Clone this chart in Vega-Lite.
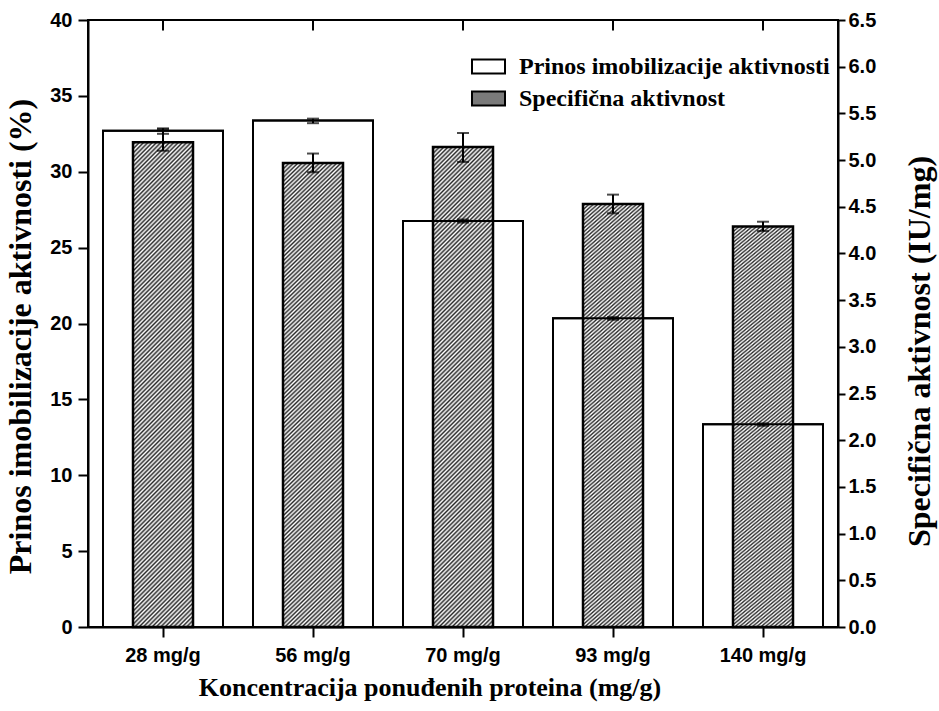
{
  "$schema": "https://vega.github.io/schema/vega-lite/v6.json",
  "width": 750,
  "height": 607,
  "autosize": {"type": "none"},
  "padding": {"left": 88, "top": 20, "right": 101, "bottom": 84},
  "background": "white",
  "data": {"values": [
    {"conc": "28 mg/g", "yield": 32.7, "yLo": 32.5, "yHi": 32.86, "spec": 5.19, "sLo": 5.1, "sHi": 5.33},
    {"conc": "56 mg/g", "yield": 33.37, "yLo": 33.2, "yHi": 33.5, "spec": 4.97, "sLo": 4.87, "sHi": 5.07},
    {"conc": "70 mg/g", "yield": 26.75, "yLo": 26.65, "yHi": 26.85, "spec": 5.14, "sLo": 4.98, "sHi": 5.29},
    {"conc": "93 mg/g", "yield": 20.34, "yLo": 20.25, "yHi": 20.42, "spec": 4.53, "sLo": 4.43, "sHi": 4.63},
    {"conc": "140 mg/g", "yield": 13.36, "yLo": 13.26, "yHi": 13.42, "spec": 4.29, "sLo": 4.24, "sHi": 4.34}
  ]},
  "layer": [
    {
      "mark": {"type": "bar", "size": 120, "stroke": "black", "strokeWidth": 2},
      "encoding": {
        "x": {"field": "conc", "type": "nominal", "sort": null, "scale": {"paddingInner": 0, "paddingOuter": 0},
          "axis": {"orient": "bottom", "title": "Koncentracija ponuđenih proteina (mg/g)", "labelAngle": 0, "tickSize": 10, "labelPadding": 8,
            "labelFont": "Liberation Sans", "labelFontSize": 20, "labelFontWeight": "bold",
            "titleFont": "Liberation Serif", "titleFontSize": 26, "titleFontWeight": "bold", "titleX": 341.5, "titleY": 68, "titleBaseline": "alphabetic", "titleAlign": "center"}},
        "y": {"field": "yield", "type": "quantitative", "scale": {"domain": [0, 40], "nice": false},
          "axis": {"orient": "left", "title": "Prinos imobilizacije aktivnosti (%)", "values": [0, 5, 10, 15, 20, 25, 30, 35, 40], "tickSize": 10, "labelPadding": 6,
            "labelFont": "Liberation Sans", "labelFontSize": 20, "labelFontWeight": "bold",
            "titleFont": "Liberation Serif", "titleFontSize": 32, "titleFontWeight": "bold", "titleAngle": -90, "titleX": -58, "titleY": 316, "titleBaseline": "alphabetic", "titleAlign": "center"}},
        "fill": {"datum": "Prinos imobilizacije aktivnosti", "type": "nominal",
          "scale": {"domain": ["Prinos imobilizacije aktivnosti", "Specifična aktivnost"], "range": ["#ffffff", "#7a7a7a"]},
          "legend": {"orient": "none", "legendX": 383, "legendY": 29, "title": null, "padding": 0, "labelLimit": 500,
            "labelFont": "Liberation Serif", "labelFontSize": 24, "labelFontWeight": "bold", "labelColor": "black", "labelOffset": 13,
            "symbolType": "M-1,-0.424H1V0.424H-1Z", "symbolSize": 1089, "symbolStrokeColor": "black", "symbolStrokeWidth": 2, "symbolOpacity": 1, "rowPadding": 2}}
      }
    },
    {
      "layer": [
        {
          "mark": {"type": "bar", "size": 60, "stroke": "black", "strokeWidth": 2.5,
            "fill": {"gradient": "linear", "x1": 0, "y1": 0, "x2": 0.1385, "y2": 1.1077, "stops": [
{"offset":0,"color":"#fff"},{"offset":0.004,"color":"#2a2a2a"},{"offset":0.008,"color":"#fff"},{"offset":0.012,"color":"#2a2a2a"},{"offset":0.016,"color":"#fff"},{"offset":0.02,"color":"#2a2a2a"},{"offset":0.024,"color":"#fff"},{"offset":0.028,"color":"#2a2a2a"},{"offset":0.032,"color":"#fff"},{"offset":0.036,"color":"#2a2a2a"},
{"offset":0.04,"color":"#fff"},{"offset":0.044,"color":"#2a2a2a"},{"offset":0.048,"color":"#fff"},{"offset":0.052,"color":"#2a2a2a"},{"offset":0.056,"color":"#fff"},{"offset":0.06,"color":"#2a2a2a"},{"offset":0.064,"color":"#fff"},{"offset":0.068,"color":"#2a2a2a"},{"offset":0.072,"color":"#fff"},{"offset":0.076,"color":"#2a2a2a"},
{"offset":0.08,"color":"#fff"},{"offset":0.084,"color":"#2a2a2a"},{"offset":0.088,"color":"#fff"},{"offset":0.092,"color":"#2a2a2a"},{"offset":0.096,"color":"#fff"},{"offset":0.1,"color":"#2a2a2a"},{"offset":0.104,"color":"#fff"},{"offset":0.108,"color":"#2a2a2a"},{"offset":0.112,"color":"#fff"},{"offset":0.116,"color":"#2a2a2a"},
{"offset":0.12,"color":"#fff"},{"offset":0.124,"color":"#2a2a2a"},{"offset":0.128,"color":"#fff"},{"offset":0.132,"color":"#2a2a2a"},{"offset":0.136,"color":"#fff"},{"offset":0.14,"color":"#2a2a2a"},{"offset":0.144,"color":"#fff"},{"offset":0.148,"color":"#2a2a2a"},{"offset":0.152,"color":"#fff"},{"offset":0.156,"color":"#2a2a2a"},
{"offset":0.16,"color":"#fff"},{"offset":0.164,"color":"#2a2a2a"},{"offset":0.168,"color":"#fff"},{"offset":0.172,"color":"#2a2a2a"},{"offset":0.176,"color":"#fff"},{"offset":0.18,"color":"#2a2a2a"},{"offset":0.184,"color":"#fff"},{"offset":0.188,"color":"#2a2a2a"},{"offset":0.192,"color":"#fff"},{"offset":0.196,"color":"#2a2a2a"},
{"offset":0.2,"color":"#fff"},{"offset":0.204,"color":"#2a2a2a"},{"offset":0.208,"color":"#fff"},{"offset":0.212,"color":"#2a2a2a"},{"offset":0.216,"color":"#fff"},{"offset":0.22,"color":"#2a2a2a"},{"offset":0.224,"color":"#fff"},{"offset":0.228,"color":"#2a2a2a"},{"offset":0.232,"color":"#fff"},{"offset":0.236,"color":"#2a2a2a"},
{"offset":0.24,"color":"#fff"},{"offset":0.244,"color":"#2a2a2a"},{"offset":0.248,"color":"#fff"},{"offset":0.252,"color":"#2a2a2a"},{"offset":0.256,"color":"#fff"},{"offset":0.26,"color":"#2a2a2a"},{"offset":0.264,"color":"#fff"},{"offset":0.268,"color":"#2a2a2a"},{"offset":0.272,"color":"#fff"},{"offset":0.276,"color":"#2a2a2a"},
{"offset":0.28,"color":"#fff"},{"offset":0.284,"color":"#2a2a2a"},{"offset":0.288,"color":"#fff"},{"offset":0.292,"color":"#2a2a2a"},{"offset":0.296,"color":"#fff"},{"offset":0.3,"color":"#2a2a2a"},{"offset":0.304,"color":"#fff"},{"offset":0.308,"color":"#2a2a2a"},{"offset":0.312,"color":"#fff"},{"offset":0.316,"color":"#2a2a2a"},
{"offset":0.32,"color":"#fff"},{"offset":0.324,"color":"#2a2a2a"},{"offset":0.328,"color":"#fff"},{"offset":0.332,"color":"#2a2a2a"},{"offset":0.336,"color":"#fff"},{"offset":0.34,"color":"#2a2a2a"},{"offset":0.344,"color":"#fff"},{"offset":0.348,"color":"#2a2a2a"},{"offset":0.352,"color":"#fff"},{"offset":0.356,"color":"#2a2a2a"},
{"offset":0.36,"color":"#fff"},{"offset":0.364,"color":"#2a2a2a"},{"offset":0.368,"color":"#fff"},{"offset":0.372,"color":"#2a2a2a"},{"offset":0.376,"color":"#fff"},{"offset":0.38,"color":"#2a2a2a"},{"offset":0.384,"color":"#fff"},{"offset":0.388,"color":"#2a2a2a"},{"offset":0.392,"color":"#fff"},{"offset":0.396,"color":"#2a2a2a"},
{"offset":0.4,"color":"#fff"},{"offset":0.404,"color":"#2a2a2a"},{"offset":0.408,"color":"#fff"},{"offset":0.412,"color":"#2a2a2a"},{"offset":0.416,"color":"#fff"},{"offset":0.42,"color":"#2a2a2a"},{"offset":0.424,"color":"#fff"},{"offset":0.428,"color":"#2a2a2a"},{"offset":0.432,"color":"#fff"},{"offset":0.436,"color":"#2a2a2a"},
{"offset":0.44,"color":"#fff"},{"offset":0.444,"color":"#2a2a2a"},{"offset":0.448,"color":"#fff"},{"offset":0.452,"color":"#2a2a2a"},{"offset":0.456,"color":"#fff"},{"offset":0.46,"color":"#2a2a2a"},{"offset":0.464,"color":"#fff"},{"offset":0.468,"color":"#2a2a2a"},{"offset":0.472,"color":"#fff"},{"offset":0.476,"color":"#2a2a2a"},
{"offset":0.48,"color":"#fff"},{"offset":0.484,"color":"#2a2a2a"},{"offset":0.488,"color":"#fff"},{"offset":0.492,"color":"#2a2a2a"},{"offset":0.496,"color":"#fff"},{"offset":0.5,"color":"#2a2a2a"},{"offset":0.504,"color":"#fff"},{"offset":0.508,"color":"#2a2a2a"},{"offset":0.512,"color":"#fff"},{"offset":0.516,"color":"#2a2a2a"},
{"offset":0.52,"color":"#fff"},{"offset":0.524,"color":"#2a2a2a"},{"offset":0.528,"color":"#fff"},{"offset":0.532,"color":"#2a2a2a"},{"offset":0.536,"color":"#fff"},{"offset":0.54,"color":"#2a2a2a"},{"offset":0.544,"color":"#fff"},{"offset":0.548,"color":"#2a2a2a"},{"offset":0.552,"color":"#fff"},{"offset":0.556,"color":"#2a2a2a"},
{"offset":0.56,"color":"#fff"},{"offset":0.564,"color":"#2a2a2a"},{"offset":0.568,"color":"#fff"},{"offset":0.572,"color":"#2a2a2a"},{"offset":0.576,"color":"#fff"},{"offset":0.58,"color":"#2a2a2a"},{"offset":0.584,"color":"#fff"},{"offset":0.588,"color":"#2a2a2a"},{"offset":0.592,"color":"#fff"},{"offset":0.596,"color":"#2a2a2a"},
{"offset":0.6,"color":"#fff"},{"offset":0.604,"color":"#2a2a2a"},{"offset":0.608,"color":"#fff"},{"offset":0.612,"color":"#2a2a2a"},{"offset":0.616,"color":"#fff"},{"offset":0.62,"color":"#2a2a2a"},{"offset":0.624,"color":"#fff"},{"offset":0.628,"color":"#2a2a2a"},{"offset":0.632,"color":"#fff"},{"offset":0.636,"color":"#2a2a2a"},
{"offset":0.64,"color":"#fff"},{"offset":0.644,"color":"#2a2a2a"},{"offset":0.648,"color":"#fff"},{"offset":0.652,"color":"#2a2a2a"},{"offset":0.656,"color":"#fff"},{"offset":0.66,"color":"#2a2a2a"},{"offset":0.664,"color":"#fff"},{"offset":0.668,"color":"#2a2a2a"},{"offset":0.672,"color":"#fff"},{"offset":0.676,"color":"#2a2a2a"},
{"offset":0.68,"color":"#fff"},{"offset":0.684,"color":"#2a2a2a"},{"offset":0.688,"color":"#fff"},{"offset":0.692,"color":"#2a2a2a"},{"offset":0.696,"color":"#fff"},{"offset":0.7,"color":"#2a2a2a"},{"offset":0.704,"color":"#fff"},{"offset":0.708,"color":"#2a2a2a"},{"offset":0.712,"color":"#fff"},{"offset":0.716,"color":"#2a2a2a"},
{"offset":0.72,"color":"#fff"},{"offset":0.724,"color":"#2a2a2a"},{"offset":0.728,"color":"#fff"},{"offset":0.732,"color":"#2a2a2a"},{"offset":0.736,"color":"#fff"},{"offset":0.74,"color":"#2a2a2a"},{"offset":0.744,"color":"#fff"},{"offset":0.748,"color":"#2a2a2a"},{"offset":0.752,"color":"#fff"},{"offset":0.756,"color":"#2a2a2a"},
{"offset":0.76,"color":"#fff"},{"offset":0.764,"color":"#2a2a2a"},{"offset":0.768,"color":"#fff"},{"offset":0.772,"color":"#2a2a2a"},{"offset":0.776,"color":"#fff"},{"offset":0.78,"color":"#2a2a2a"},{"offset":0.784,"color":"#fff"},{"offset":0.788,"color":"#2a2a2a"},{"offset":0.792,"color":"#fff"},{"offset":0.796,"color":"#2a2a2a"},
{"offset":0.8,"color":"#fff"},{"offset":0.804,"color":"#2a2a2a"},{"offset":0.808,"color":"#fff"},{"offset":0.812,"color":"#2a2a2a"},{"offset":0.816,"color":"#fff"},{"offset":0.82,"color":"#2a2a2a"},{"offset":0.824,"color":"#fff"},{"offset":0.828,"color":"#2a2a2a"},{"offset":0.832,"color":"#fff"},{"offset":0.836,"color":"#2a2a2a"},
{"offset":0.84,"color":"#fff"},{"offset":0.844,"color":"#2a2a2a"},{"offset":0.848,"color":"#fff"},{"offset":0.852,"color":"#2a2a2a"},{"offset":0.856,"color":"#fff"},{"offset":0.86,"color":"#2a2a2a"},{"offset":0.864,"color":"#fff"},{"offset":0.868,"color":"#2a2a2a"},{"offset":0.872,"color":"#fff"},{"offset":0.876,"color":"#2a2a2a"},
{"offset":0.88,"color":"#fff"},{"offset":0.884,"color":"#2a2a2a"},{"offset":0.888,"color":"#fff"},{"offset":0.892,"color":"#2a2a2a"},{"offset":0.896,"color":"#fff"},{"offset":0.9,"color":"#2a2a2a"},{"offset":0.904,"color":"#fff"},{"offset":0.908,"color":"#2a2a2a"},{"offset":0.912,"color":"#fff"},{"offset":0.916,"color":"#2a2a2a"},
{"offset":0.92,"color":"#fff"},{"offset":0.924,"color":"#2a2a2a"},{"offset":0.928,"color":"#fff"},{"offset":0.932,"color":"#2a2a2a"},{"offset":0.936,"color":"#fff"},{"offset":0.94,"color":"#2a2a2a"},{"offset":0.944,"color":"#fff"},{"offset":0.948,"color":"#2a2a2a"},{"offset":0.952,"color":"#fff"},{"offset":0.956,"color":"#2a2a2a"},
{"offset":0.96,"color":"#fff"},{"offset":0.964,"color":"#2a2a2a"},{"offset":0.968,"color":"#fff"},{"offset":0.972,"color":"#2a2a2a"},{"offset":0.976,"color":"#fff"},{"offset":0.98,"color":"#2a2a2a"},{"offset":0.984,"color":"#fff"},{"offset":0.988,"color":"#2a2a2a"},{"offset":0.992,"color":"#fff"},{"offset":0.996,"color":"#2a2a2a"},
{"offset":1,"color":"#fff"}
            ]}},
          "encoding": {
            "x": {"field": "conc", "type": "nominal", "sort": null, "scale": {"paddingInner": 0, "paddingOuter": 0}, "axis": null},
            "y": {"field": "spec", "type": "quantitative", "title": "Specifična aktivnost (IU/mg)", "scale": {"domain": [0, 6.5], "nice": false},
              "axis": {"orient": "right", "title": "Specifična aktivnost (IU/mg)", "values": [0, 0.5, 1, 1.5, 2, 2.5, 3, 3.5, 4, 4.5, 5, 5.5, 6, 6.5], "format": ".1f", "tickSize": 7, "labelPadding": 3,
                "labelFont": "Liberation Sans", "labelFontSize": 20, "labelFontWeight": "bold",
                "titleFont": "Liberation Serif", "titleFontSize": 32, "titleFontWeight": "bold", "titleAngle": -90, "titleX": 91, "titleY": 331, "titleBaseline": "alphabetic", "titleAlign": "center"}}
          }
        },
        {
          "mark": {"type": "rule", "color": "black", "strokeWidth": 2},
          "encoding": {
            "x": {"field": "conc", "type": "nominal", "sort": null, "scale": {"paddingInner": 0, "paddingOuter": 0}, "axis": null},
            "y": {"field": "sLo", "type": "quantitative", "title": "Specifična aktivnost (IU/mg)", "scale": {"domain": [0, 6.5], "nice": false}},
            "y2": {"field": "sHi"}
          }
        },
        {
          "mark": {"type": "tick", "color": "black", "size": 12, "thickness": 2},
          "encoding": {
            "x": {"field": "conc", "type": "nominal", "sort": null, "scale": {"paddingInner": 0, "paddingOuter": 0}, "axis": null},
            "y": {"field": "sLo", "type": "quantitative", "title": "Specifična aktivnost (IU/mg)", "scale": {"domain": [0, 6.5], "nice": false}}
          }
        },
        {
          "mark": {"type": "tick", "color": "black", "size": 12, "thickness": 2},
          "encoding": {
            "x": {"field": "conc", "type": "nominal", "sort": null, "scale": {"paddingInner": 0, "paddingOuter": 0}, "axis": null},
            "y": {"field": "sHi", "type": "quantitative", "title": "Specifična aktivnost (IU/mg)", "scale": {"domain": [0, 6.5], "nice": false}}
          }
        }
      ]
    },
    {
      "layer": [
        {
          "mark": {"type": "bar", "size": 120, "fill": "white", "fillOpacity": 0, "stroke": "black", "strokeWidth": 2},
          "encoding": {
            "x": {"field": "conc", "type": "nominal", "sort": null, "scale": {"paddingInner": 0, "paddingOuter": 0}, "axis": null},
            "y": {"field": "yield", "type": "quantitative", "scale": {"domain": [0, 40], "nice": false}, "axis": null}
          }
        },
        {
          "mark": {"type": "rule", "color": "black", "strokeWidth": 2},
          "encoding": {
            "x": {"field": "conc", "type": "nominal", "sort": null, "scale": {"paddingInner": 0, "paddingOuter": 0}, "axis": null},
            "y": {"field": "yLo", "type": "quantitative", "scale": {"domain": [0, 40], "nice": false}, "axis": null},
            "y2": {"field": "yHi"}
          }
        },
        {
          "mark": {"type": "tick", "color": "black", "size": 12, "thickness": 2},
          "encoding": {
            "x": {"field": "conc", "type": "nominal", "sort": null, "scale": {"paddingInner": 0, "paddingOuter": 0}, "axis": null},
            "y": {"field": "yLo", "type": "quantitative", "scale": {"domain": [0, 40], "nice": false}, "axis": null}
          }
        },
        {
          "mark": {"type": "tick", "color": "black", "size": 12, "thickness": 2},
          "encoding": {
            "x": {"field": "conc", "type": "nominal", "sort": null, "scale": {"paddingInner": 0, "paddingOuter": 0}, "axis": null},
            "y": {"field": "yHi", "type": "quantitative", "scale": {"domain": [0, 40], "nice": false}, "axis": null}
          }
        },
        {
          "mark": {"type": "rule", "color": "black", "strokeWidth": 2},
          "encoding": {
            "x": {"field": "conc", "type": "nominal", "sort": null, "scale": {"paddingInner": 0, "paddingOuter": 0}, "axis": null},
            "y": {"datum": 40, "type": "quantitative", "scale": {"domain": [0, 40], "nice": false}, "axis": null},
            "y2": {"datum": 39.3}
          }
        }
      ]
    }
  ],
  "resolve": {"scale": {"y": "independent", "x": "independent"}, "axis": {"y": "independent", "x": "independent"}},
  "config": {
    "view": {"stroke": "black", "strokeWidth": 2},
    "axis": {"grid": false, "domainColor": "black", "domainWidth": 2, "tickColor": "black", "tickWidth": 2, "labelColor": "black", "titleColor": "black"}
  }
}
